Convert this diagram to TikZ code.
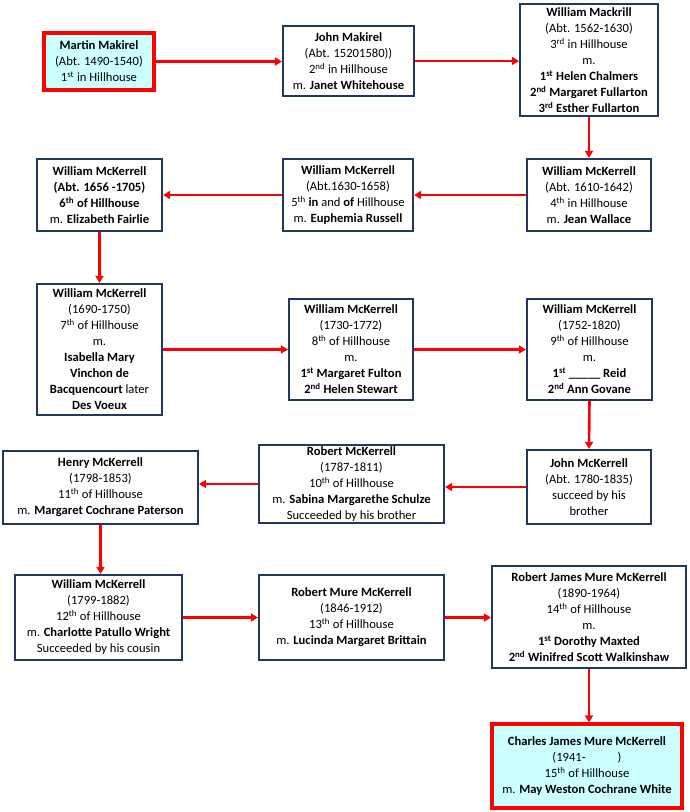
\documentclass[tikz,border=0pt]{standalone}
\usepackage{fontspec}
\setmainfont{Carlito}
\usetikzlibrary{arrows.meta}
\definecolor{boxnavy}{HTML}{1F3864}
\definecolor{headfill}{HTML}{CCFFFF}
\newcommand{\ord}[1]{\textsuperscript{#1}}
\begin{document}
\begin{tikzpicture}[x=1pt, y=-1pt,
    person/.style={draw=boxnavy, line width=2.2pt, fill=white, align=center,
        inner sep=1pt, font=\fontsize{12.6}{16}\selectfont},
    endperson/.style={person, draw=red, line width=3.2pt, fill=headfill},
    line/.style={red, line width=2.6pt, -{Triangle[length=7pt, width=8pt]}}]
    \useasboundingbox (0,0) rectangle (689,812);

    % first row, left to right
    \node[endperson, minimum width=110pt, minimum height=57pt] (martin) at (99,61.5)
        {\textbf{Martin Makirel}\\(Abt. 1490-1540)\\1\ord{st} in Hillhouse};
    \node[person, minimum width=131pt, minimum height=70pt] (john) at (348.5,61)
        {\textbf{John Makirel}\\(Abt. 15201580))\\2\ord{nd} in Hillhouse\\m. \textbf{Janet Whitehouse}};
    \node[person, minimum width=138pt, minimum height=112pt] (mackrill) at (589,60)
        {\textbf{William Mackrill}\\(Abt. 1562-1630)\\3\ord{rd} in Hillhouse\\m.\\
         \textbf{1\ord{st} Helen Chalmers}\\\textbf{2\ord{nd} Margaret Fullarton}\\
         \textbf{3\ord{rd} Esther Fullarton}};

    % second row, right to left
    \node[person, minimum width=124pt, minimum height=72pt] (wm4) at (589,195)
        {\textbf{William McKerrell}\\(Abt. 1610-1642)\\4\ord{th} in Hillhouse\\m. \textbf{Jean Wallace}};
    \node[person, minimum width=130pt, minimum height=72pt] (wm5) at (348,195)
        {\textbf{William McKerrell}\\(Abt.1630-1658)\\5\ord{th} \textbf{in} and \textbf{of} Hillhouse\\
         m. \textbf{Euphemia Russell}};
    \node[person, minimum width=125pt, minimum height=72pt] (wm6) at (99.5,195)
        {\textbf{William McKerrell}\\\textbf{(Abt. 1656 -1705)}\\\textbf{6\ord{th} of Hillhouse}\\
         m. \textbf{Elizabeth Fairlie}};

    % third row, left to right
    \node[person, minimum width=125pt, minimum height=131pt] (wm7) at (99.5,349.5)
        {\textbf{William McKerrell}\\(1690-1750)\\7\ord{th} of Hillhouse\\m.\\
         \textbf{Isabella Mary}\\\textbf{Vinchon de}\\\textbf{Bacquencourt} later\\\textbf{Des Voeux}};
    \node[person, minimum width=124pt, minimum height=101pt] (wm8) at (351,349.5)
        {\textbf{William McKerrell}\\(1730-1772)\\8\ord{th} of Hillhouse\\m.\\
         \textbf{1\ord{st} Margaret Fulton}\\\textbf{2\ord{nd} Helen Stewart}};
    \node[person, minimum width=125pt, minimum height=101pt] (wm9) at (589.5,349.5)
        {\textbf{William McKerrell}\\(1752-1820)\\9\ord{th} of Hillhouse\\m.\\
         \textbf{1\ord{st} \_\_\_\_\_ Reid}\\\textbf{2\ord{nd} Ann Govane}};

    % fourth row, right to left
    \node[person, minimum width=124pt, minimum height=74pt] (jm10) at (589,487)
        {\textbf{John McKerrell}\\(Abt. 1780-1835)\\succeed by his\\brother};
    \node[person, minimum width=185pt, minimum height=78pt] (rm10) at (351.5,484)
        {\textbf{Robert McKerrell}\\(1787-1811)\\10\ord{th} of Hillhouse\\
         m. \textbf{Sabina Margarethe Schulze}\\Succeeded by his brother};
    \node[person, minimum width=195pt, minimum height=73pt] (hm11) at (100.5,487.5)
        {\textbf{Henry McKerrell}\\(1798-1853)\\11\ord{th} of Hillhouse\\
         m. \textbf{Margaret Cochrane Paterson}};

    % fifth row, left to right
    \node[person, minimum width=167pt, minimum height=85pt] (wm12) at (98.5,617.5)
        {\textbf{William McKerrell}\\(1799-1882)\\12\ord{th} of Hillhouse\\
         m. \textbf{Charlotte Patullo Wright}\\Succeeded by his cousin};
    \node[person, minimum width=185pt, minimum height=85pt] (rm13) at (351.5,617.5)
        {\textbf{Robert Mure McKerrell}\\(1846-1912)\\13\ord{th} of Hillhouse\\
         m. \textbf{Lucinda Margaret Brittain}};
    \node[person, minimum width=194pt, minimum height=102pt] (rm14) at (589,617)
        {\textbf{Robert James Mure McKerrell}\\(1890-1964)\\14\ord{th} of Hillhouse\\m.\\
         \textbf{1\ord{st} Dorothy Maxted}\\\textbf{2\ord{nd} Winifred Scott Walkinshaw}};

    % last one
    \node[endperson, minimum width=190pt, minimum height=84pt] (cm15) at (587,766)
        {\textbf{Charles James Mure McKerrell}\\(1941-\hspace{32pt})\\15\ord{th} of Hillhouse\\
         m. \textbf{May Weston Cochrane White}};

    % line of descent
    \draw[line] (martin.east) -- (martin.east -| john.west);
    \draw[line] (john.east) -- (john.east -| mackrill.west);
    \draw[line] (mackrill.south) -- (wm4.north);
    \draw[line] (wm4.west) -- (wm5.east);
    \draw[line] (wm5.west) -- (wm6.east);
    \draw[line] (wm6.south) -- (wm7.north);
    \draw[line] (wm7.east) -- (wm8.west);
    \draw[line] (wm8.east) -- (wm9.west);
    \draw[line] (wm9.south) -- (jm10.north);
    \draw[line] (jm10.west) -- (jm10.west -| rm10.east);
    \draw[line] (rm10.west) -- (rm10.west -| hm11.east);
    \draw[line] (hm11.south) -- (hm11.south |- wm12.north);
    \draw[line] (wm12.east) -- (rm13.west);
    \draw[line] (rm13.east) -- (rm13.east -| rm14.west);
    \draw[line] (rm14.south) -- (rm14.south |- cm15.north);
\end{tikzpicture}
\end{document}
